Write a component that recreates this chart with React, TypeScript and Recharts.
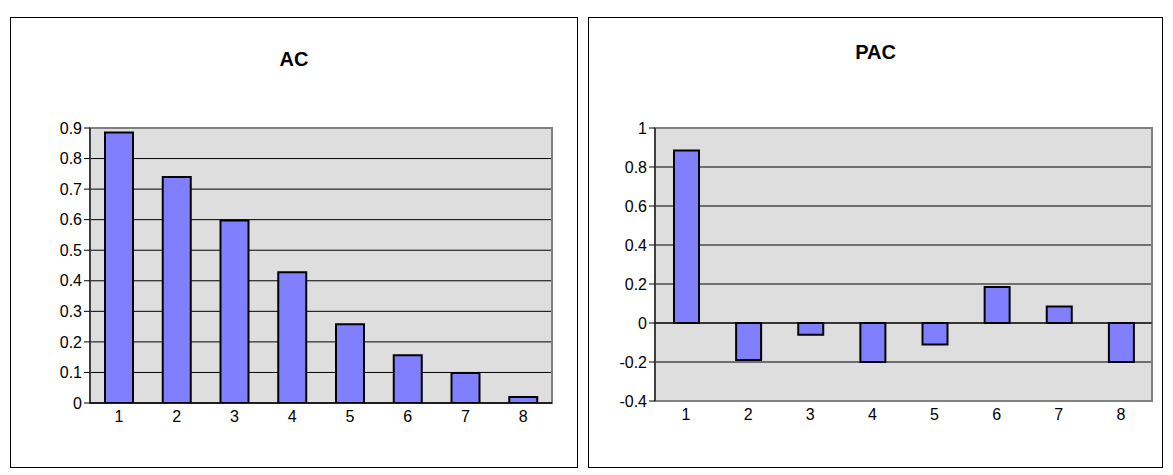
import { Bar, BarChart, CartesianGrid, ReferenceArea, ReferenceLine, XAxis, YAxis } from "recharts";

const lags = ["1", "2", "3", "4", "5", "6", "7", "8"];
const acValues = [0.885, 0.74, 0.597, 0.428, 0.258, 0.156, 0.098, 0.02];
const pacValues = [0.885, -0.19, -0.06, -0.2, -0.11, 0.185, 0.085, -0.2];
const acTicks = [0, 0.1, 0.2, 0.3, 0.4, 0.5, 0.6, 0.7, 0.8, 0.9];
const pacTicks = [-0.4, -0.2, 0, 0.2, 0.4, 0.6, 0.8, 1];

const acData = lags.map((lag, i) => ({ lag, v: acValues[i] }));
const pacData = lags.map((lag, i) => ({ lag, v: pacValues[i] }));

const font = { fontFamily: "Liberation Sans, Arial, sans-serif", fontSize: 16, fill: "#000" };

const Panel = ({ left, width, title, titleTop, children }: any) => (
  <div
    style={{
      position: "absolute",
      left,
      top: 17,
      width,
      height: 451,
      border: "1px solid #000",
      boxSizing: "border-box",
      background: "#fff",
    }}
  >
    <div
      style={{
        position: "absolute",
        top: titleTop,
        width: "100%",
        textAlign: "center",
        fontFamily: "Liberation Sans, Arial, sans-serif",
        fontWeight: "bold",
        fontSize: 20,
      }}
    >
      {title}
    </div>
    {children}
  </div>
);

export default function App() {
  return (
    <div style={{ position: "fixed", left: 0, top: 0, width: 1173, height: 475, background: "#fff" }}>
      <Panel left={10} width={568} title="AC" titleTop={30}>
        <BarChart
          width={566}
          height={449}
          data={acData}
          margin={{ top: 110, right: 25, left: 30, bottom: 34 }}
        >
          <CartesianGrid fill="#dedede" stroke="#000" vertical={false} />
          <ReferenceArea y1={0} y2={0.9} fill="none" stroke="#808080" strokeWidth={2} />
          <XAxis dataKey="lag" tick={font} stroke="#000" tickLine={false} height={30} />
          <YAxis
            type="number"
            domain={[0, 0.9]}
            ticks={acTicks}
            tick={font}
            stroke="#000"
            width={49}
            interval={0}
            allowDataOverflow
          />
          <ReferenceLine y={0} stroke="#000" />
          <Bar dataKey="v" barSize={28} fill="#8080ff" stroke="#000" strokeWidth={2} isAnimationActive={false} />
        </BarChart>
      </Panel>
      <Panel left={588} width={575} title="PAC" titleTop={23}>
        <BarChart
          width={573}
          height={449}
          data={pacData}
          margin={{ top: 110, right: 10, left: 17, bottom: 34 }}
        >
          <CartesianGrid fill="#dedede" stroke="#000" vertical={false} />
          <ReferenceArea y1={-0.4} y2={1} fill="none" stroke="#808080" strokeWidth={2} />
          <XAxis dataKey="lag" tick={font} axisLine={false} tickLine={false} height={32} />
          <YAxis
            type="number"
            domain={[-0.4, 1]}
            ticks={pacTicks}
            tick={font}
            stroke="#000"
            width={49}
            interval={0}
          />
          <ReferenceLine y={0} stroke="#000" />
          <Bar dataKey="v" barSize={25} fill="#8080ff" stroke="#000" strokeWidth={2} isAnimationActive={false} />
        </BarChart>
      </Panel>
    </div>
  );
}
